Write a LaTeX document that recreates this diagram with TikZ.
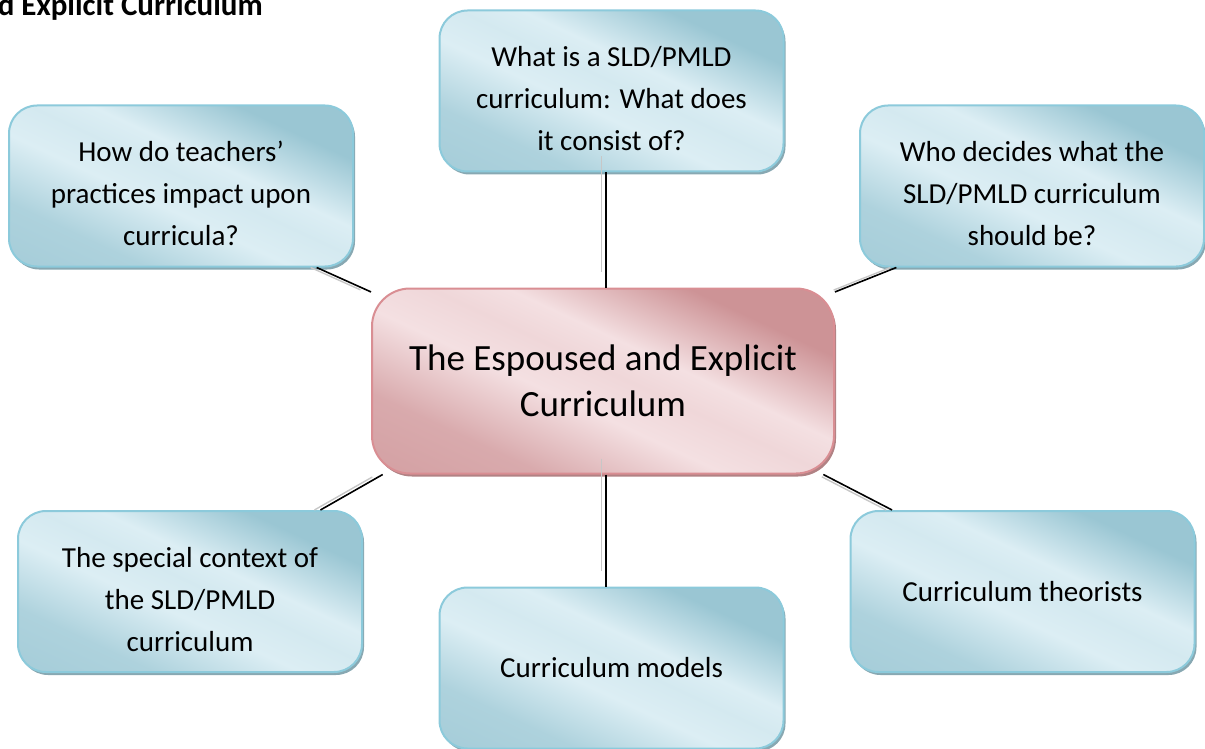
\documentclass[tikz,border=0pt]{standalone}
\usepackage{fontspec}
\setmainfont{Carlito}
\usepackage{tikz}
\usetikzlibrary{shapes,shadows,positioning}

\definecolor{bluelt}{HTML}{DCEEF4}
\definecolor{bluedk}{HTML}{9AC6D3}
\definecolor{blueline}{HTML}{8CCADB}
\definecolor{blueshade}{HTML}{7B9FAA}
\definecolor{pinklt}{HTML}{F4E0E2}
\definecolor{pinkdk}{HTML}{CD9396}
\definecolor{pinkline}{HTML}{D98E93}
\definecolor{pinkshade}{HTML}{A87477}

\pgfdeclarehorizontalshading{bluegloss}{100bp}{color(0bp)=(bluedk); color(30bp)=(bluedk!70!bluelt); color(44bp)=(bluelt); color(52bp)=(bluelt!88!bluedk); color(58bp)=(bluelt); color(72bp)=(bluedk); color(100bp)=(bluedk)}
\pgfdeclarehorizontalshading{pinkgloss}{100bp}{color(0bp)=(pinkdk); color(30bp)=(pinkdk!70!pinklt); color(44bp)=(pinklt); color(52bp)=(pinklt!88!pinkdk); color(58bp)=(pinklt); color(72bp)=(pinkdk); color(100bp)=(pinkdk)}

% extra room above the first line of a three-line topic
\newcommand{\topgap}{\rule{0pt}{36pt}}

\begin{document}
\begin{tikzpicture}[x=1pt,y=-1pt]
    \tikzstyle{every node}+=[inner sep=0pt, align=center]
    \tikzstyle{topic}=[draw=blueline, line width=2pt, rounded corners=28pt,
        minimum width=344pt, minimum height=161pt, shading=bluegloss, shading angle=65,
        drop shadow={shadow xshift=2pt, shadow yshift=-3pt, fill=blueshade, opacity=0.9},
        font=\fontsize{29}{42}\selectfont]
    \tikzstyle{hub}=[draw=pinkline, line width=2pt, rounded corners=38pt,
        minimum width=462pt, minimum height=185pt, shading=pinkgloss, shading angle=65,
        drop shadow={shadow xshift=2pt, shadow yshift=-3pt, fill=pinkshade, opacity=0.9},
        font=\fontsize{37}{46}\selectfont]
    \tikzstyle{spoke}=[line width=1.6pt, black]
    \tikzstyle{glint}=[line width=1.4pt, black!22, shorten >=5pt, transform canvas={xshift=-6pt}]
    \tikzstyle{glintv}=[line width=1.4pt, black!22, transform canvas={xshift=-5pt, yshift=16pt}]

    \useasboundingbox (0,0) rectangle (1205,749);
    \clip (0,0) rectangle (1205,749);

    \node[anchor=base east, font=\fontsize{31}{36}\selectfont\bfseries] (title) at (263,16) {d Explicit Curriculum};

    % the hub and its six topics
    \node[hub] (mid) at (603,381) {The Espoused and Explicit\\Curriculum};
    \node[topic] (top) at (611.5,91) {\topgap What is a SLD/PMLD\\curriculum: What does\\it consist of?};
    \node[topic] (tl) at (181,186) {\topgap How do teachers'\\practices impact upon\\curricula?};
    \node[topic] (tr) at (1032,186) {\topgap Who decides what the\\SLD/PMLD curriculum\\should be?};
    \node[topic] (bl) at (190,591.5) {\topgap The special context of\\the SLD/PMLD\\curriculum};
    \node[topic] (br) at (1022.5,591.5) {Curriculum theorists};
    \node[topic] (bot) at (611.5,668) {Curriculum models};

    % spokes
    \draw[spoke] (mid.88.2) -- (mid.88.2 |- top.south);
    \draw[spoke] (mid.-88.2) -- (mid.-88.2 |- bot.north);
    \draw[spoke] (tl.-31) -- (mid.159);
    \draw[spoke] (tr.-149.5) -- (mid.21);
    \draw[spoke] (bl.32) -- (mid.203);
    \draw[spoke] (br.148) -- (mid.-23);

    % reflections
    \draw[glintv] (mid.88.2) -- (mid.88.2 |- top.south);
    \draw[glintv] (mid.-88.2) -- (mid.-88.2 |- bot.north);
    \draw[glint] (tl.-31) -- (mid.159);
    \draw[glint] (tr.-149.5) -- (mid.21);
    \draw[glint] (bl.32) -- (mid.203);
    \draw[glint] (br.148) -- (mid.-23);
\end{tikzpicture}
\end{document}
